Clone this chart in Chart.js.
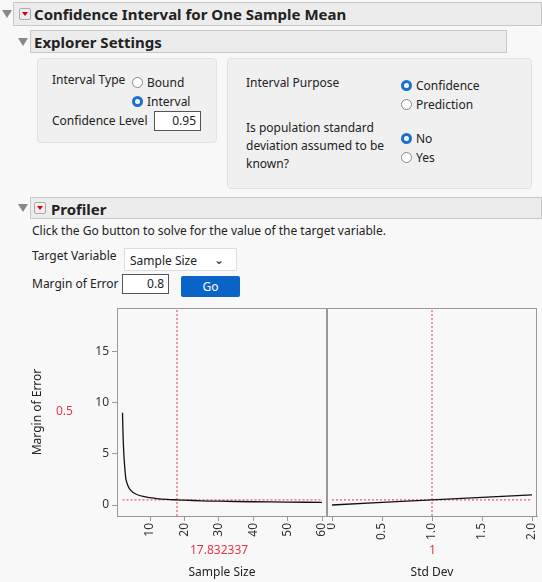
<!DOCTYPE html>
<html><head><meta charset="utf-8">
<script src="https://cdn.jsdelivr.net/npm/chart.js@4/dist/chart.umd.min.js"></script>
<style>
body{margin:0;width:542px;height:582px;background:#f8f8f8;font-family:"Noto Sans","Open Sans",sans-serif;font-size:12px;color:#222;position:relative;overflow:hidden}
.a{position:absolute;white-space:nowrap}
.hdr{position:absolute;background:#ececec;border:1px solid #c8c8c8;box-sizing:border-box}
.hdr b{position:absolute;font-size:15px;top:1px}
.tri{position:absolute;width:0;height:0;border-left:5px solid transparent;border-right:5px solid transparent;border-top:8px solid #888}
.rb{position:absolute;width:12px;height:12px;background:#eee;border:1px solid #aaa;border-radius:2px;box-sizing:border-box}
.rb:after{content:"";position:absolute;left:2px;top:3px;border-left:3px solid transparent;border-right:3px solid transparent;border-top:4px solid #d00}
.box{position:absolute;background:#f0f0f0;border:1px solid #e2e2e2;border-radius:4px;box-sizing:border-box}
.rad{display:inline-block;width:9px;height:9px;border:1px solid #888;border-radius:50%;vertical-align:-1px;margin-right:4px;background:#fff}
.rad.on{border:3px solid #1a6fd0;width:5px;height:5px}
.inp{position:absolute;background:#fff;border:1px solid #555;box-sizing:border-box;text-align:right;padding-right:4px;line-height:18px}
</style></head><body>
<div class="tri" style="left:2px;top:10px"></div>
<div class="hdr" style="left:13px;top:2px;width:529px;height:24px"><div class="rb" style="left:5px;top:5px"></div><b style="left:20px">Confidence Interval for One Sample Mean</b></div>
<div class="tri" style="left:18px;top:38px"></div>
<div class="hdr" style="left:30px;top:30px;width:477px;height:23px"><b style="left:3px">Explorer Settings</b></div>
<div class="box" style="left:37px;top:58px;width:180px;height:85px"></div>
<div class="box" style="left:227px;top:58px;width:305px;height:131px"></div>
<div class="a" style="left:52px;top:71px">Interval Type</div>
<div class="a" style="left:132px;top:74px"><span class="rad"></span>Bound</div>
<div class="a" style="left:132px;top:93px"><span class="rad on"></span>Interval</div>
<div class="a" style="left:52px;top:112px">Confidence Level</div>
<div class="inp" style="left:154px;top:111px;width:47px;height:20px">0.95</div>
<div class="a" style="left:246px;top:74px">Interval Purpose</div>
<div class="a" style="left:401px;top:77px"><span class="rad on"></span>Confidence</div>
<div class="a" style="left:401px;top:96px"><span class="rad"></span>Prediction</div>
<div class="a" style="left:246px;top:119px;line-height:18px">Is population standard<br>deviation assumed to be<br>known?</div>
<div class="a" style="left:401px;top:130px"><span class="rad on"></span>No</div>
<div class="a" style="left:401px;top:149px"><span class="rad"></span>Yes</div>
<div class="tri" style="left:18px;top:204px"></div>
<div class="hdr" style="left:30px;top:197px;width:512px;height:22px"><div class="rb" style="left:3px;top:4px"></div><b style="left:20px">Profiler</b></div>
<div class="a" style="left:32px;top:222px">Click the Go button to solve for the value of the target variable.</div>
<div class="a" style="left:32px;top:247px">Target Variable</div>
<div class="a" style="left:124px;top:248px;width:113px;height:23px;background:#fff;border:1px solid #ddd;box-sizing:border-box;padding:3px 5px">Sample Size<span style="position:absolute;right:12px;top:2px">&#8964;</span></div>
<div class="a" style="left:32px;top:275px">Margin of Error</div>
<div class="inp" style="left:122px;top:274px;width:47px;height:20px">0.8</div>
<div class="a" style="left:181px;top:276px;width:59px;height:21px;background:#0a64c8;color:#fff;text-align:center;line-height:21px;border-radius:2px">Go</div>
<div class="a" style="left:30px;top:300px;width:297px;height:282px"><canvas id="c1"></canvas></div>
<div class="a" style="left:327px;top:300px;width:215px;height:282px"><canvas id="c2"></canvas></div>
<div class="a" style="left:56px;top:402px;color:#e8344a">0.5</div>
<div class="a" style="left:190px;top:541px;color:#e8344a">17.832337</div>
<div class="a" style="left:429px;top:541px;color:#e8344a">1</div>
<script>
const sampleSize=[2,2.1,2.2,2.4,2.6,2.8,3,3.5,4,5,6,8,10,12,15,18,20,25,30,40,50,60];
const moeBySize=[9.0,7.6,6.4,4.9,3.9,3.1,2.5,1.95,1.6,1.24,1.05,0.84,0.72,0.63,0.55,0.5,0.47,0.41,0.37,0.32,0.28,0.26];
const stdDev=[0,0.5,1,1.5,2];
const moeBySd=[0,0.25,0.5,0.75,0.99];
const targetMoe=0.5, curSize=17.832337, curSd=1;
const sizeTicks=[10,20,30,40,50,60], sdTicks=[0,0.5,1,1.5,2], sdTickLabels=['0','0.5','1.0','1.5','2.0'], yTicks=[0,5,10,15];
const red='#e8344a', gray='#999';
const frame={id:'frame',afterDraw(c){const a=c.chartArea,x=c.ctx;x.save();x.strokeStyle=gray;x.lineWidth=1;x.strokeRect(a.left+0.5,a.top+0.5,a.right-a.left-1,a.bottom-a.top);x.restore();}};
const font={family:'"Noto Sans","Open Sans",sans-serif',size:12};
function xs(min,max,ticks,labels,title){return{type:'linear',min,max,afterBuildTicks:s=>{s.ticks=ticks.map(v=>({value:v}))},
 ticks:{font,color:'#333',minRotation:90,maxRotation:90,padding:2,callback:(v,i)=>labels?labels[i]:String(v)},
 grid:{drawOnChartArea:false,tickLength:5,color:gray},border:{color:gray},
 title:{display:true,text:title,font,color:'#222',padding:{top:0,bottom:2}},afterFit:s=>{s.height=66;s.paddingLeft=0;s.paddingRight=0}};}
const ys={min:-1.07,max:19.2,afterBuildTicks:s=>{s.ticks=yTicks.map(v=>({value:v}))},ticks:{font,color:'#333',padding:3},
 grid:{drawOnChartArea:false,tickLength:5,color:gray},border:{color:gray},
 title:{display:true,text:'Margin of Error',font,color:'#222',padding:0},afterFit:s=>{s.width=87;s.paddingTop=0;s.paddingBottom=0}};
const base={responsive:true,maintainAspectRatio:false,animation:false,plugins:{legend:{display:false},tooltip:{enabled:false}},elements:{point:{radius:0}}};
new Chart(document.getElementById('c1'),{type:'line',data:{datasets:[
 {data:sampleSize.map((v,i)=>({x:v,y:moeBySize[i]})),borderColor:'#111',borderWidth:1.3,tension:0.3},
 {data:[{x:sampleSize[0],y:targetMoe},{x:60,y:targetMoe}],borderColor:red,borderWidth:1,borderDash:[2,2]},
 {data:[{x:curSize,y:-1.07},{x:curSize,y:19}],borderColor:red,borderWidth:1,borderDash:[2,2]}]},
 options:{...base,layout:{padding:{top:8,right:0}},scales:{x:xs(0.4,61.45,sizeTicks,null,'Sample Size'),y:ys}},plugins:[frame]});
new Chart(document.getElementById('c2'),{type:'line',data:{datasets:[
 {data:stdDev.map((v,i)=>({x:v,y:moeBySd[i]})),borderColor:'#111',borderWidth:1.3},
 {data:[{x:0,y:targetMoe},{x:2,y:targetMoe}],borderColor:red,borderWidth:1,borderDash:[2,2]},
 {data:[{x:curSd,y:-1.07},{x:curSd,y:19}],borderColor:red,borderWidth:1,borderDash:[2,2]}]},
 options:{...base,layout:{padding:{top:8,right:5}},scales:{x:xs(-0.05,2.05,sdTicks,sdTickLabels,'Std Dev'),y:{min:-1.07,max:19.2,display:false}}},plugins:[frame]});
</script></body></html>
